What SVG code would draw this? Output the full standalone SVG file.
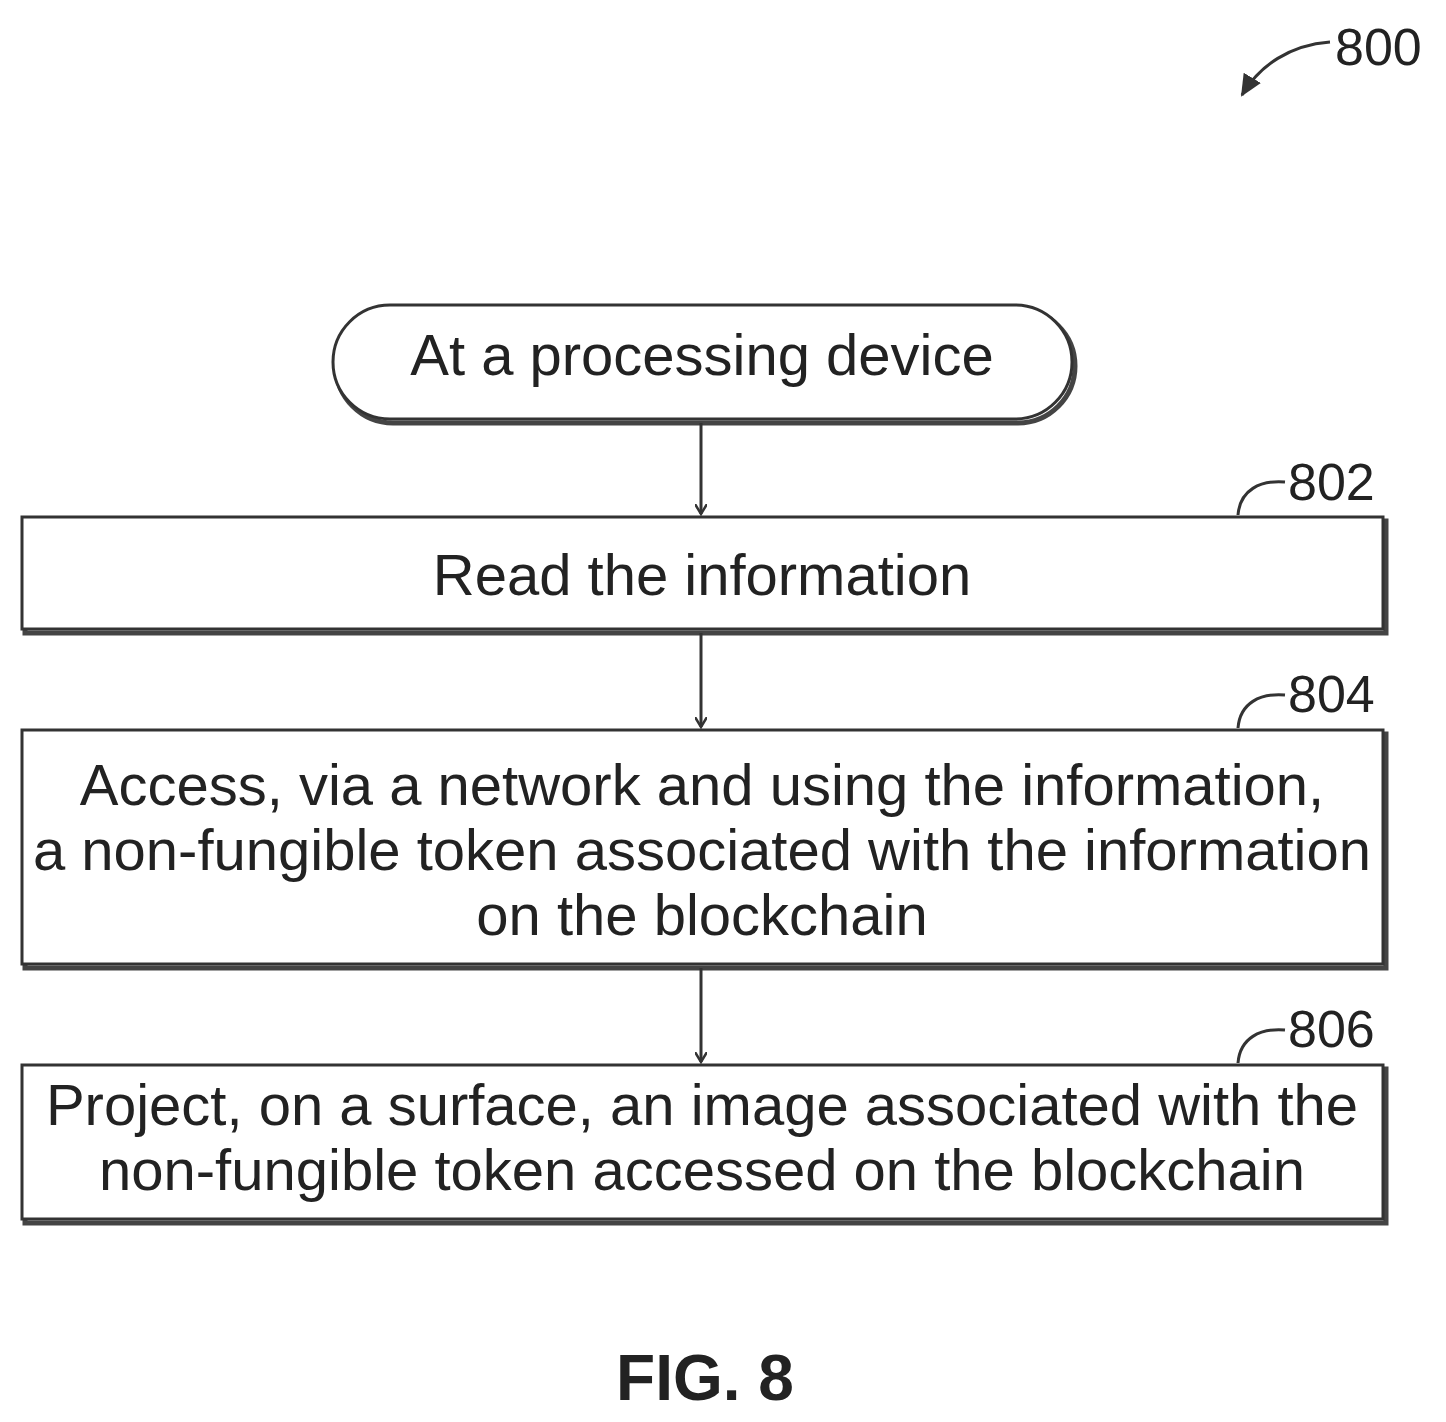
<svg xmlns="http://www.w3.org/2000/svg" width="1446" height="1422" viewBox="0 0 1446 1422">
<defs>
<style>
.b{fill:#fff;stroke:#333;stroke-width:3}
.s{fill:none;stroke:#444;stroke-width:5}
.t{font-family:"Liberation Sans",Arial,sans-serif;font-size:58px;fill:#222;text-anchor:middle}
.r{font-family:"Liberation Sans",Arial,sans-serif;font-size:52px;fill:#222}
.c{fill:none;stroke:#333;stroke-width:3}
</style>
<marker id="a" markerWidth="12" markerHeight="12" refX="10" refY="6" orient="auto" markerUnits="userSpaceOnUse"><path d="M0,0 L10,6 L0,12" fill="none" stroke="#333" stroke-width="2.5"/></marker>
<marker id="f" markerWidth="24" markerHeight="24" refX="20" refY="12" orient="auto" markerUnits="userSpaceOnUse"><path d="M0,2 L22,12 L0,22 Z" fill="#333"/></marker>
</defs>
<g id="n800">
<text class="r" x="1335" y="65">800</text>
<path class="c" d="M1330,42 C1290,45 1260,65 1242,95" marker-end="url(#f)"/>
</g>
<g id="start">
<rect class="s" x="336" y="309" width="739" height="114" rx="57"/>
<rect class="b" x="333" y="305" width="739" height="114" rx="57"/>
<text class="t" x="702" y="375">At a processing device</text>
</g>
<g id="n802">
<rect class="s" x="25" y="521" width="1361" height="112"/>
<rect class="b" x="22" y="517" width="1361" height="112"/>
<text class="t" x="702" y="595">Read the information</text>
<text class="r" x="1288" y="500">802</text>
<path class="c" d="M1238,515 C1240,490 1260,480 1285,482"/>
</g>
<g id="n804">
<rect class="s" x="25" y="734" width="1361" height="234"/>
<rect class="b" x="22" y="730" width="1361" height="234"/>
<text class="t" x="702" y="805">Access, via a network and using the information,</text>
<text class="t" x="702" y="870">a non-fungible token associated with the information</text>
<text class="t" x="702" y="935">on the blockchain</text>
<text class="r" x="1288" y="712">804</text>
<path class="c" d="M1238,728 C1240,703 1260,693 1285,695"/>
</g>
<g id="n806">
<rect class="s" x="25" y="1069" width="1361" height="154"/>
<rect class="b" x="22" y="1065" width="1361" height="154"/>
<text class="t" x="702" y="1125">Project, on a surface, an image associated with the</text>
<text class="t" x="702" y="1190">non-fungible token accessed on the blockchain</text>
<text class="r" x="1288" y="1047">806</text>
<path class="c" d="M1238,1063 C1240,1038 1260,1028 1285,1030"/>
</g>
<g id="connectors">
<line class="c" x1="701" y1="423" x2="701" y2="514" marker-end="url(#a)"/>
<line class="c" x1="701" y1="633" x2="701" y2="727" marker-end="url(#a)"/>
<line class="c" x1="701" y1="968" x2="701" y2="1062" marker-end="url(#a)"/>
</g>
<text x="705" y="1400" style="font-family:'Liberation Sans',Arial,sans-serif;font-size:64px;font-weight:bold;fill:#222;text-anchor:middle">FIG. 8</text>
</svg>
